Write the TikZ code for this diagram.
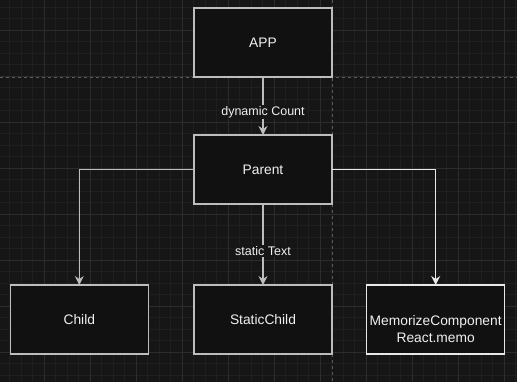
\documentclass[tikz,border=0pt]{standalone}
\usepackage{fontspec}
\setmainfont{Liberation Sans}
\usepackage{xcolor}
\usepackage{tikz}
\usetikzlibrary{arrows.meta,positioning,calc}
\definecolor{canvasbg}{HTML}{161616}
\definecolor{boxbg}{HTML}{111111}
\definecolor{boxline}{HTML}{BDBDBD}
\definecolor{hiline}{HTML}{E8E8E8}
\definecolor{gridfine}{HTML}{1F1F1F}
\definecolor{gridbold}{HTML}{2C2C2C}
\definecolor{pageline}{HTML}{5A5A5A}
\definecolor{labeltext}{HTML}{F0F0F0}
\tikzset{
  compbox/.style={rectangle,draw=boxline,fill=boxbg,line width=1.3pt,minimum width=138pt,minimum height=69pt,
    inner sep=0pt,outer sep=0pt,text=labeltext,font=\fontsize{13.8}{17}\selectfont},
  flowarrow/.style={-{Stealth[length=9pt,width=9pt,inset=3pt]},line width=1.2pt,draw=boxline},
  edgelabel/.style={fill=canvasbg,inner sep=1pt,text=labeltext,font=\fontsize{12.5}{14}\selectfont},
  gridfine/.style={draw=gridfine,line width=0.8pt},
  gridbold/.style={draw=gridbold,line width=1pt},
  pagebreak/.style={draw=pageline,line width=0.9pt,dash pattern=on 3pt off 3pt}
}

\begin{document}
\begin{tikzpicture}[x=1pt,y=-1pt,node distance=58pt]
  \useasboundingbox (0,0) rectangle (517,382);
  \fill[canvasbg] (0,0) rectangle (517,382);
  % background grid
  \foreach \gx in {9.8,21.3,...,517} \draw[gridfine] (\gx,0) -- (\gx,382);
  \foreach \gy in {7.3,18.8,...,382} \draw[gridfine] (0,\gy) -- (517,\gy);
  \foreach \gx in {44.3,90.3,...,517} \draw[gridbold] (\gx,0) -- (\gx,382);
  \foreach \gy in {30.3,76.3,...,382} \draw[gridbold] (0,\gy) -- (517,\gy);
  \draw[pagebreak] (0,77) -- (517,77);
  \draw[pagebreak] (332.3,0) -- (332.3,382);

  \node[compbox] (app) at (263,42.5) {APP};
  \node[compbox,below=of app] (parent) {Parent};
  \node[compbox,below=81pt of parent] (staticchild) {StaticChild};
  \node[compbox,left=45.7pt of staticchild] (child) {Child};
  \node[compbox,draw=hiline,right=34.7pt of staticchild,text depth=0pt] (memo)
    {\begin{tabular}[t]{@{}c@{}}MemorizeComponent\\React.memo\end{tabular}};

  \draw[flowarrow] (app)--(parent) node[edgelabel,pos=0.6] {dynamic Count};
  \draw[flowarrow] (parent)--(staticchild) node[edgelabel,pos=0.58] {static Text};
  \draw[flowarrow] (parent.west) -| (child.north);
  \draw[flowarrow,draw=hiline] (parent.east) -| (memo.north);
\end{tikzpicture}
\end{document}
